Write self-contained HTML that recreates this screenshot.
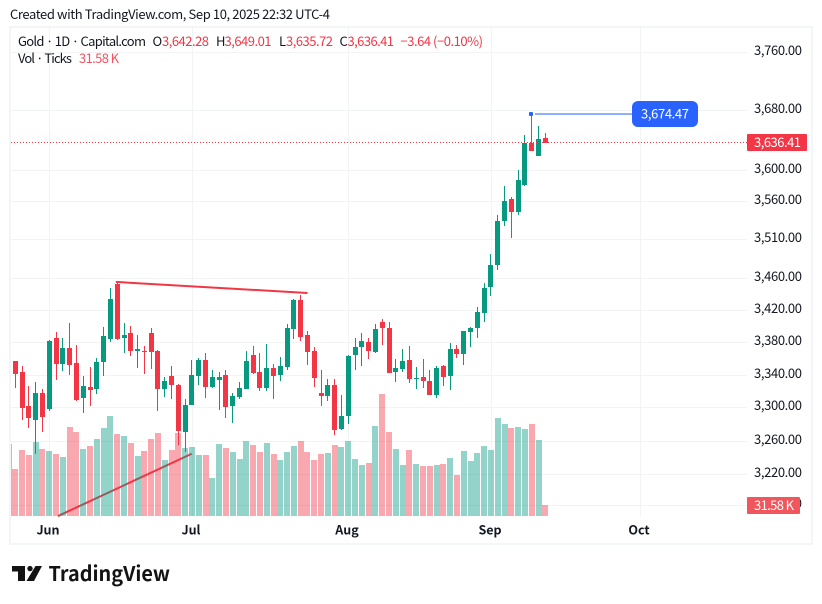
<!DOCTYPE html>
<html lang="en">
<head>
<meta charset="utf-8">
<title>Gold 1D chart</title>
<style>
html,body{margin:0;padding:0;background:#fff;width:822px;height:604px;overflow:hidden}
svg{display:block}
text{font-family:"Noto Sans CJK JP","Liberation Sans",sans-serif;font-size:13px;fill:#131722}
.red{fill:#f23645}
.wht{fill:#fff}
.axis-b{font-weight:700;font-size:12.5px}
</style>
</head>
<body>
<svg id="chart" xmlns="http://www.w3.org/2000/svg" width="822" height="604" viewBox="0 0 822 604">
  <text x="10" y="19" textLength="320" lengthAdjust="spacing">Created with TradingView.com, Sep 10, 2025 22:32 UTC-4</text>
  <rect x="10" y="27" width="802" height="517" fill="none" stroke="#f1f2f4" stroke-width="1.5"/>
  <g id="grid"></g>
  <g id="trends"></g>
  <g id="vols"></g>
  <g id="candles"></g>
  <g id="overlay"></g>
  <g id="yaxis"></g>
  <g id="xaxis"></g>
  <g>
    <text x="18" y="46" textLength="128" lengthAdjust="spacing">Gold · 1D · Capital.com</text>
    <text x="152.500" y="46">O</text>
    <text class="red" x="162" y="46" textLength="47" lengthAdjust="spacing">3,642.28</text>
    <text x="216" y="46">H</text>
    <text class="red" x="224.500" y="46" textLength="47" lengthAdjust="spacing">3,649.01</text>
    <text x="279" y="46">L</text>
    <text class="red" x="286" y="46" textLength="47" lengthAdjust="spacing">3,635.72</text>
    <text x="339.500" y="46">C</text>
    <text class="red" x="347.500" y="46" textLength="46.500" lengthAdjust="spacing">3,636.41</text>
    <text class="red" x="400.500" y="46" textLength="82.500" lengthAdjust="spacing">−3.64 (−0.10%)</text>
    <text x="18" y="63" textLength="54" lengthAdjust="spacing">Vol · Ticks</text>
    <text x="79" y="63" textLength="40" lengthAdjust="spacing" style="fill:#f7525f">31.58 K</text>
  </g>
  <g>
    <polygon points="12,566 25,566 25,581 18,581 18,571.500 12,571.500" fill="#131313"/>
    <circle cx="30" cy="568.600" r="2.700" fill="#131313"/>
    <polygon points="35.500,566 42,566 34,581 26.500,581" fill="#131313"/>
    <text x="48.500" y="581" textLength="121.500" lengthAdjust="spacingAndGlyphs" style="font-size:20.5px;font-weight:700;fill:#131313">TradingView</text>
  </g>
</svg>
<script>
const opens = [3356.6,3342.9,3301.2,3285.3,3317.2,3297.6,3385.4,3352.9,3372.9,3354.1,3311,3324.5,3322,3355.4,3384.1,3452.9,3385.4,3391.6,3369.1,3369.1,3391.6,3369.1,3322,3338,3326.9,3270.6,3302.5,3338,3357.9,3324.5,3333.1,3339.2,3301.2,3312.3,3322,3364.1,3342.9,3323.3,3347.9,3339.2,3349.1,3396.6,3432.9,3389.1,3369.1,3317.2,3313.5,3326.9,3274.3,3289,3364.1,3374.1,3380.4,3367.9,3405.4,3397.9,3342.9,3346.6,3357.9,3334.3,3336.7,3331.8,3314.7,3350.4,3338,3371.6,3365.4,3392.9,3397.9,3416.6,3449,3477,3533.5,3561.7,3545,3580,3636,3619,3642.28];
const highs = [3356.6,3350.4,3325.7,3330.6,3322,3382.9,3392.9,3385.4,3404.1,3376.6,3338,3349.1,3360.4,3399.1,3447.9,3455.4,3404.1,3400.4,3389.1,3375.4,3397.9,3370.4,3336.7,3350.4,3328.2,3309.8,3357.9,3360.4,3366.6,3345.4,3342.9,3345.4,3317.2,3330.6,3369.1,3375.4,3366.6,3377.9,3352.9,3361.6,3402.9,3434.1,3439.1,3394.1,3374.1,3345.4,3334.3,3334.3,3314.7,3364.1,3385.4,3391.6,3385.4,3402.9,3409.1,3405.4,3359.1,3371.6,3375.4,3349.1,3359.1,3345.4,3350.4,3351.6,3379.1,3376.6,3394.1,3399.1,3424.1,3454.1,3491.2,3541.2,3579,3564.4,3600.4,3646.8,3674.47,3658.7,3649.01];
const lows = [3323.3,3285.3,3275.5,3243.7,3270.6,3295.1,3333.1,3344.1,3339.2,3307.4,3292.7,3301.2,3315.9,3338,3380.4,3382.9,3366.6,3362.9,3347.9,3340.4,3346.6,3295.1,3312.3,3309.8,3254.7,3246.2,3302.5,3326.9,3311,3323.3,3296.3,3286.6,3281.7,3309.8,3322,3340.4,3319.6,3319.6,3309.8,3331.8,3345.4,3384.1,3381.6,3351.6,3324.5,3301.2,3307.4,3267,3273.1,3280.4,3345.4,3350.4,3359.1,3366.6,3376.6,3341.6,3330.6,3342.9,3329.4,3322,3323.3,3314.7,3311,3325.7,3320.8,3360.4,3351.6,3374.1,3385.4,3405.4,3437.7,3470.9,3527,3511.7,3541.2,3579,3625.5,3619,3635.72];
const closes = [3340.4,3298.8,3286.6,3317.2,3287.8,3381.6,3352.9,3372.9,3351.6,3308.6,3325.7,3320.8,3355.4,3387.9,3434.1,3384.1,3389.1,3369.1,3371.6,3367.9,3367.9,3322,3331.8,3326.9,3271.9,3302.5,3339.2,3357.9,3324.5,3336.7,3336.7,3300,3313.5,3323.3,3356.6,3341.6,3323.3,3347.9,3338,3350.4,3397.9,3432.9,3386.6,3367.9,3335.5,3313.5,3326.9,3273.1,3289,3362.9,3374.1,3381.6,3369.1,3396.6,3397.9,3341.6,3347.9,3356.6,3334.3,3335.5,3331.8,3314.7,3347.9,3336.7,3371.6,3365.4,3394.1,3397.9,3417.9,3447.9,3477,3533.5,3559.1,3545,3587,3636,3625.5,3641.4,3636.41];
const volumes = [134.9,189.5,175.1,212.5,192.4,186.6,178,169.4,255.5,241.2,192.4,201,221.1,252.6,287.1,235.4,229.7,209.6,172.3,186.6,221.1,238.3,160.8,189.5,238.3,195.2,198.1,175.1,175.1,109.1,206.7,195.2,183.7,163.6,215.3,203.8,183.7,209.6,178,160.8,183.7,201,215.3,183.7,160.8,178,180.9,203.8,198.1,215.3,163.6,146.4,152.2,258.4,350.3,241.2,192.4,146.4,189.5,149.3,143.6,143.6,146.4,149.3,166.5,117.7,186.6,157.9,180.9,201,189.5,281.4,264.1,252.6,255.5,249.8,264.1,218.2,31.58];
const previousVolume = 206.7;
const priceTicks = [3760,3680,3600,3560,3510,3460,3420,3380,3340,3300,3260,3220,3183.6];
const monthLabels = ["Jun","Jul","Aug","Sep","Oct"];
const monthIndexes = [5,26,49,70,92];
const lastClose = 3636.41;
const anchorPrice = 3674.47;
const anchorIndex = 76;
const anchorEndIndex = 90.9;
const trendStartIndexes = [14.8,6.28];
const trendEndIndexes = [43.0,25.96];
const trendStartPrices = [3455.4,3171];
const trendEndPrices = [3441.4,3244.3];
const lastVolume = 31.58;

const NS = 'http://www.w3.org/2000/svg';
const GREEN = '#089981', RED = '#f23645';
const PLOT_LEFT = 11, PLOT_RIGHT = 747, PLOT_TOP = 28, PLOT_BOTTOM = 516;
function xAt(i){ return 15.3 + i * 6.795; }
function yAt(p){ return 278.3 - 2726 * Math.log(p / 3460); }
function volY(v){ return PLOT_BOTTOM - v * 0.3483; }
function make(tag, parent, attrs){
  const el = document.createElementNS(NS, tag);
  for (const k in attrs) el.setAttribute(k, attrs[k]);
  parent.appendChild(el);
  return el;
}
function fmt(p){ return p.toLocaleString('en-US',{minimumFractionDigits:2,maximumFractionDigits:2}); }

const grid = document.getElementById('grid');
const yaxis = document.getElementById('yaxis');
const xaxis = document.getElementById('xaxis');
const trends = document.getElementById('trends');
const vols = document.getElementById('vols');
const candles = document.getElementById('candles');
const overlay = document.getElementById('overlay');

priceTicks.forEach(function(p){
  const y = Math.round(yAt(p)) + 0.5;
  const line = make('line', grid, {x1:PLOT_LEFT, x2:PLOT_RIGHT, y1:y, y2:y, stroke:'#f2f3f5', 'stroke-width':1});
  
  
  const label = make('text', yaxis, {x:754, y:y + 2.5, textLength:48, lengthAdjust:'spacing'});
  label.textContent = fmt(Math.round(p / 10) * 10);
  
  
});

monthLabels.forEach(function(m, k){
  const x = Math.round(xAt(monthIndexes[k])) + 0.5;
  const line = make('line', grid, {x1:x, x2:x, y1:PLOT_TOP, y2:PLOT_BOTTOM, stroke:'#f2f3f5', 'stroke-width':1});
  
  
  const label = make('text', xaxis, {x:x - 1.5, y:534.5, 'text-anchor':'middle', 'class':'axis-b'});
  label.textContent = m;
  
  
});

trendStartIndexes.forEach(function(s, k){
  const line = make('line', trends, {x1:xAt(s), y1:yAt(trendStartPrices[k]), x2:xAt(trendEndIndexes[k]), y2:yAt(trendEndPrices[k]), stroke:RED, 'stroke-width':2});
  
  
});

function volBar(i, v, up){
  const l = Math.max(Math.round(xAt(i) - 3), PLOT_LEFT), r = Math.round(xAt(i) + 3);
  const top = Math.round(volY(v));
  const bar = make('rect', vols, {x:l, y:top, width:r - l, height:PLOT_BOTTOM - top, fill:up ? 'rgba(8,153,129,.43)' : 'rgba(242,54,69,.43)'});
  
  
}
volBar(-1, previousVolume, true);
volumes.forEach(function(v, i){ volBar(i, v, closes[i] >= opens[i]); });

const dotted = make('line', overlay, {x1:PLOT_LEFT, x2:PLOT_RIGHT, y1:Math.round(yAt(lastClose)) - 0.5, y2:Math.round(yAt(lastClose)) - 0.5, stroke:RED, 'stroke-width':1, 'stroke-dasharray':'1 2'});



opens.forEach(function(o, i){
  const c = closes[i], up = c >= o, col = up ? GREEN : RED;
  const xc = xAt(i);
  const wick = make('rect', candles, {x:Math.round(xc - 0.5), y:Math.round(yAt(highs[i])), width:1, height:Math.max(1, Math.round(yAt(lows[i])) - Math.round(yAt(highs[i]))), fill:col});
  
  
  const t = Math.round(yAt(Math.max(o, c))), b = Math.round(yAt(Math.min(o, c)));
  const body = make('rect', candles, {x:Math.round(xc - 0.5) - 2, y:t, width:5, height:Math.max(1, b - t), fill:col});
  
  
});

const ay = Math.round(yAt(anchorPrice));
const ax = Math.round(xAt(anchorIndex)) - 1;
const anchorLine = make('rect', overlay, {x:ax + 4, y:ay - 1, width:xAt(anchorEndIndex) - ax - 4, height:2, fill:'#8fb0ff'});


const anchorDot = make('rect', overlay, {x:ax - 2, y:ay - 2, width:4, height:4, rx:1, fill:'#2962ff'});


const noteBox = make('rect', overlay, {x:632, y:101, width:66, height:26, rx:6, fill:'#2962ff'});


const noteText = make('text', overlay, {x:641, y:118.5, 'class':'wht', textLength:48, lengthAdjust:'spacing'});
noteText.textContent = fmt(anchorPrice);



const closeBox = make('rect', overlay, {x:747, y:134, width:60, height:17, rx:1, fill:RED});


const closeText = make('text', overlay, {x:754, y:147, 'class':'wht', textLength:47, lengthAdjust:'spacing'});
closeText.textContent = fmt(lastClose);



const volBox = make('rect', xaxis, {x:747, y:497, width:53, height:17, rx:1, fill:'#f0565c'});


const volText = make('text', xaxis, {x:754, y:510, 'class':'wht', textLength:40, lengthAdjust:'spacing'});
volText.textContent = lastVolume.toFixed(2) + ' K';


</script>
</body>
</html>
